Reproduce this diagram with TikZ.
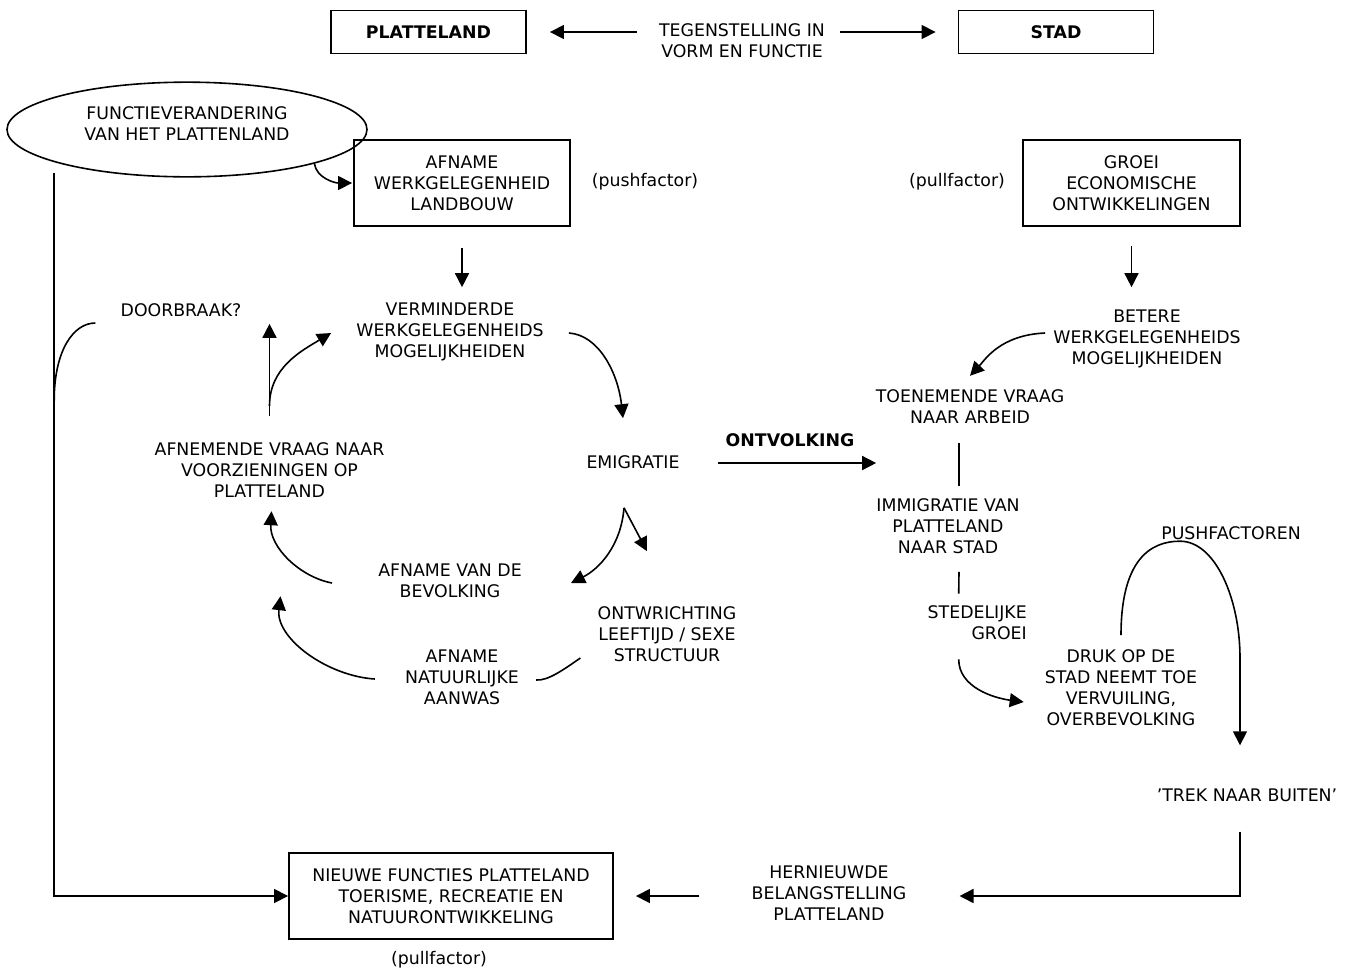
\documentclass[tikz,border=0pt]{standalone}
\usepackage{fontspec}
\setmainfont{DejaVu Sans}
\usetikzlibrary{arrows.meta,shapes.geometric,calc}
\begin{document}
\begin{tikzpicture}[x=0.75pt,y=-0.75pt,
  every node/.style={font=\fontsize{13}{15.75}\selectfont, align=center, inner sep=0pt},
  box/.style={draw, line width=1.4pt},
  conn/.style={line width=1.2pt},
  arr/.style={conn, -{Triangle[length=10.5pt,width=10.5pt]}},
]
\useasboundingbox (0,0) rectangle (1353,972);

% top row
\node[box, minimum width=146.25pt, minimum height=32.25pt] (plat) at (428.5,32) {\textbf{PLATTELAND}};
\node[box, minimum width=146.25pt, minimum height=32.25pt] (stad) at (1056,32) {\textbf{STAD}};
\node (tegen) at (742,41) {TEGENSTELLING IN\\VORM EN FUNCTIE};

% left top
\node[draw, ellipse, line width=1.2pt, minimum width=270pt, minimum height=71pt] (ell) at (187,129.5) {};
\node (elltxt) at (187,123.5) {FUNCTIEVERANDERING\\VAN HET PLATTENLAND};
\node[box, minimum width=162pt, minimum height=64.5pt] (afname) at (462,183) {AFNAME\\WERKGELEGENHEID\\LANDBOUW};
\node (pushf) at (645,182) {(pushfactor)};
\node (pullf) at (957,182) {(pullfactor)};
\node[box, minimum width=162.75pt, minimum height=64.5pt] (groei) at (1131.5,183) {GROEI\\ECONOMISCHE\\ONTWIKKELINGEN};

% middle texts
\node (verm) at (450,331.5) {VERMINDERDE\\WERKGELEGENHEIDS\\MOGELIJKHEIDEN};
\node (door) at (181,310) {DOORBRAAK?};
\node (betere) at (1147,338.5) {BETERE\\WERKGELEGENHEIDS\\MOGELIJKHEIDEN};
\node (toen) at (970,407) {TOENEMENDE VRAAG\\NAAR ARBEID};
\node (emig) at (633,462) {EMIGRATIE};
\node (ontv) at (790,440) {\textbf{ONTVOLKING}};
\node (afnvr) at (269.5,470.5) {AFNEMENDE VRAAG NAAR\\VOORZIENINGEN OP\\PLATTELAND};
\node (immi) at (948,526) {IMMIGRATIE VAN\\PLATTELAND\\NAAR STAD};
\node (push) at (1231,533) {PUSHFACTOREN};
\node (afnbev) at (450,581) {AFNAME VAN DE\\BEVOLKING};
\node[anchor=east, align=right] (stedel) at (1027,623) {STEDELIJKE\\GROEI};
\node (ontw) at (667,634) {ONTWRICHTING\\LEEFTIJD / SEXE\\STRUCTUUR};
\node (afnnat) at (462,677) {AFNAME\\NATUURLIJKE\\AANWAS};
\node (druk) at (1121,687.5) {DRUK OP DE\\STAD NEEMT TOE\\VERVUILING,\\OVERBEVOLKING};
\node (trek) at (1247,795) {’TREK NAAR BUITEN’};

% bottom
\node (hern) at (829,893.5) {HERNIEUWDE\\BELANGSTELLING\\PLATTELAND};
\node[box, minimum width=243pt, minimum height=64.5pt] (nieuw) at (451,896) {NIEUWE FUNCTIES PLATTELAND\\TOERISME, RECREATIE EN\\NATUURONTWIKKELING};
\node (pull2) at (439,960) {(pullfactor)};

% connectors top
\draw[arr] ($(tegen.west)+(-22,-9)$) -- ($(plat.east)+(23,0)$);
\draw[arr] ($(tegen.east)+(15,-9)$) -- ($(stad.west)+(-22,0)$);

% ellipse -> afname
\draw[arr] (ell.-15) .. controls +(2,14) and +(-18,0) .. ($(afname.west)+(-1,0)$);
% left long line
\draw[arr] ($(ell.west)+(48,43)$) |- (nieuw.west);
% doorbraak curve
\draw[conn] ($(ell.west)+(48,271)$) .. controls +(0,-50) and +(-22,0) .. ($(door.west)+(-25,13)$);

% afname -> verm
\draw[arr] ($(afname.south)+(0,21)$) -- ($(afname.south |- verm.north)+(0,-15)$);
% groei -> betere
\draw[arr] ($(groei.south)+(0,19)$) -- ($(groei.south |- betere.north)+(0,-22)$);

% verm -> emig
\draw[arr] ($(verm.east)+(25,1.5)$) .. controls +(30,2) and +(-5,-45) .. ($(emig.north)+(-10,-37)$);
% emig -> ontvolking
\draw[arr] ($(emig.east)+(38,1)$) -- ($(immi.west |- emig.east)+(0,1)$);
% emig branches
\coordinate (epeak) at ($(emig.south)+(-9,39)$);
\draw[arr] (epeak) -- ($(ontw.north)+(-20,-55)$);
\draw[arr] (epeak) .. controls +(-3,38) and +(28,-14) .. ($(afnbev.east)+(49,2)$);
% afnbev -> afnvr
\draw[arr] ($(afnbev.west)+(-46,2)$) .. controls +(-32,-6) and +(-2,36) .. ($(afnvr.south)+(2,13)$);
% afnnat -> afnvr
\draw[arr] ($(afnnat.west)+(-30,2)$) .. controls +(-48,-3) and +(-5,42) .. ($(afnvr.south)+(11,98)$);
% ontw -> afnnat
\draw[conn] ($(ontw.west)+(-17,24)$) .. controls +(-16,11) and +(12,1) .. ($(afnnat.east)+(17,3)$);
% afnvr -> doorbraak
\draw[arr] ($(afnvr.north)+(0,-27)$) -- ($(afnvr.north |- door.south)+(0,7)$);
% afnvr -> verm
\draw[arr] ($(afnvr.north)+(0,-37)$) .. controls +(0,-38) and +(-30,18) .. ($(verm.west)+(-25,1.5)$);

% right column
\draw[arr] ($(betere.west)+(-8,-5.5)$) .. controls +(-45,2) and +(15,-16) .. ($(toen.north)+(0,-14)$);
\draw[conn] ($(toen.south)+(-11,19)$) -- ($(immi.north)+(11,-12)$);
\draw[conn] ($(immi.south)+(11,18)$) -- ($(stedel.north)+(-18.5,-12)$);
\draw[arr] ($(stedel.south)+(-18.5,19)$) .. controls +(0,28) and +(-30,-4) .. ($(druk.west)+(-21,14.5)$);
% pushfactor loop
\draw[arr] ($(druk.north)+(0,-14)$) .. controls +(0,-75) and +(-30,0) .. ++(59,-94)
   .. controls +(35,0) and +(0,-60) .. ++(60,117) -- ($(trek.north)+(-7,-43)$);

% bottom
\draw[arr] ($(trek.south)+(-7,30)$) |- ($(hern.east)+(53,2.5)$);
\draw[arr] ($(hern.west)+(-52,2.5)$) -- ($(nieuw.east)+(22,0)$);
\end{tikzpicture}
\end{document}
